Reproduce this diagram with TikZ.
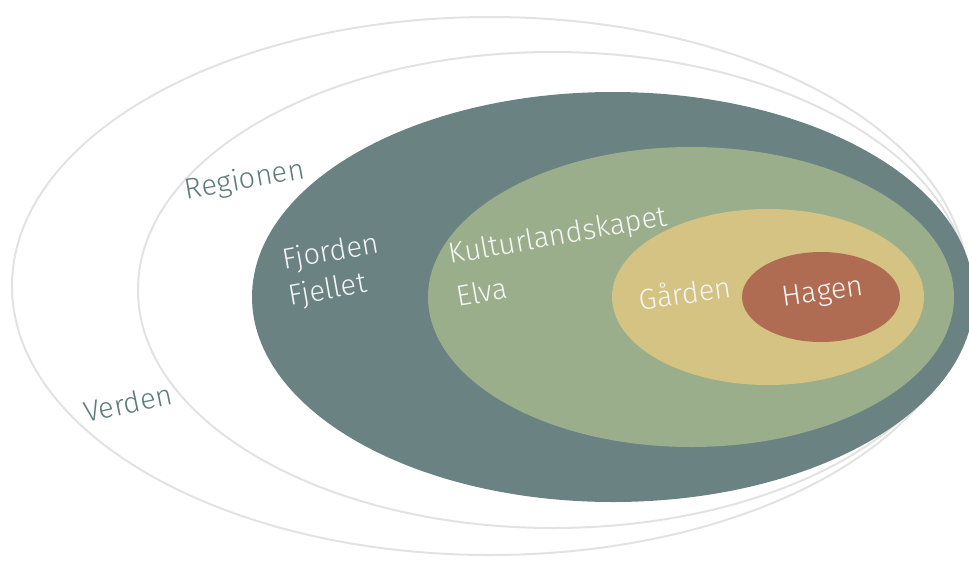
\documentclass[tikz,border=0pt]{standalone}
\usepackage{fontspec}
\setmainfont{Fira Sans}[UprightFont=* Light]
\definecolor{teal1}{HTML}{6B8283}
\definecolor{green1}{HTML}{9AAE8C}
\definecolor{yellow1}{HTML}{D4C382}
\definecolor{red1}{HTML}{B06C52}
\definecolor{ring}{HTML}{E2E2E2}
\definecolor{labtxt}{HTML}{5E7B7C}
\tikzset{
  ringline/.style={draw=ring, line width=2pt},
  outlab/.style={text=labtxt, font=\fontsize{29}{32}\selectfont, inner sep=0pt},
  inlab/.style={text=white!92!gray, font=\fontsize{29}{32}\selectfont, inner sep=0pt}
}
\begin{document}
\begin{tikzpicture}[x=1pt,y=-1pt]
\useasboundingbox (0,0) rectangle (969,560);
\clip (0,0) rectangle (969,560);
\draw[ringline] (490,286) ellipse [x radius=478, y radius=269];
\draw[ringline] (553,290) ellipse [x radius=415, y radius=238];
\fill[teal1] (613,297) ellipse [x radius=361, y radius=205];
\fill[green1] (691,297) ellipse [x radius=263, y radius=150];
\fill[yellow1] (768,297) ellipse [x radius=156, y radius=88];
\fill[red1] (821,297) ellipse [x radius=79, y radius=45];
\node[outlab, rotate=12] (verden) at (128,403) {Verden};
\node[outlab, rotate=10] (regionen) at (245,181) {Regionen};
\node[inlab, rotate=10] (fjorden) at (331,253) {Fjorden};
\node[inlab, rotate=10] (fjellet) at (328,291) {Fjellet};
\node[inlab, rotate=10] (kultur) at (558,237) {Kulturlandskapet};
\node[inlab, rotate=10] (elva) at (482,292) {Elva};
\node[inlab, rotate=8] (garden) at (685,292) {Gården};
\node[inlab, rotate=8] (hagen) at (823,294) {Hagen};
\end{tikzpicture}
\end{document}
